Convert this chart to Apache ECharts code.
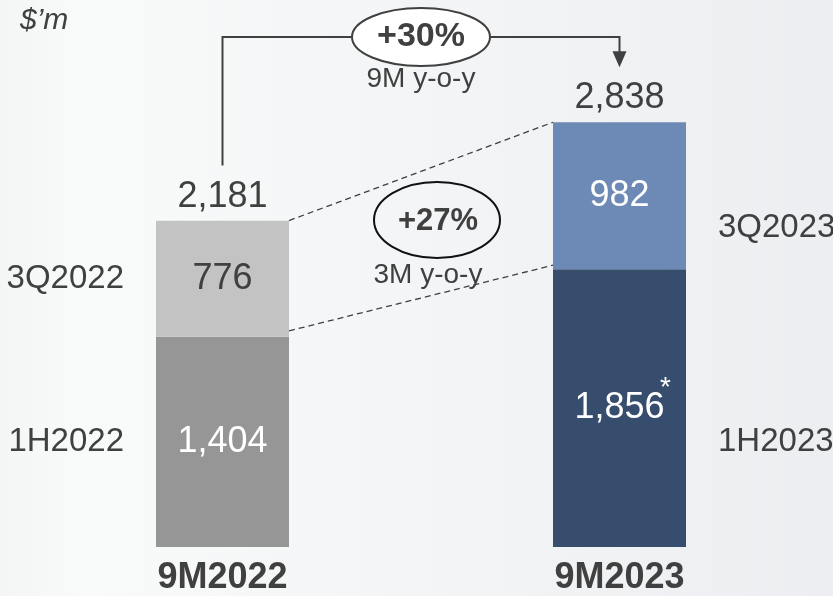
<!DOCTYPE html>
<html>
<head>
<meta charset="utf-8">
<script src="https://cdn.jsdelivr.net/npm/echarts@6/dist/echarts.min.js"></script>
<style>
  html, body { margin: 0; padding: 0; }
  #chart { width: 833px; height: 596px; }
</style>
</head>
<body>
<div id="chart"></div>
<script>
// data
const periods = ['9M2022', '9M2023'];
const firstHalf = [1404, 1856];
const thirdQuarter = [776, 982];
const totals = [2181, 2838];
const firstHalfNames = ['1H2022', '1H2023'];
const thirdQuarterNames = ['3Q2022', '3Q2023'];
const growth9M = '+30%';
const growth3M = '+27%';

const FONT = '"Liberation Sans", Arial, sans-serif';
const INK = '#404040';

const chart = echarts.init(document.getElementById('chart'));

const fmt = v => v.toLocaleString('en-US');

chart.setOption({
  animation: false,
  backgroundColor: {
    type: 'linear', x: 0, y: 0, x2: 1, y2: 0,
    colorStops: [
      { offset: 0, color: '#f4f5f5' },
      { offset: 0.1, color: '#f9fafa' },
      { offset: 1, color: '#eceef1' },
    ],
  },
  textStyle: { fontFamily: FONT },
  grid: { left: 24, right: 15, top: 98, bottom: 48 },
  xAxis: {
    type: 'category',
    data: periods,
    axisLine: { show: false },
    axisTick: { show: false },
    axisLabel: { color: INK, fontSize: 36, fontWeight: 'bold', margin: 13, fontFamily: FONT },
  },
  yAxis: { type: 'value', min: 0, max: 3000, show: false, splitLine: { show: false } },
  series: [
    {
      name: '1H',
      type: 'bar',
      stack: 'rev',
      barWidth: 133,
      data: firstHalf.map((v, i) => ({
        value: v,
        itemStyle: { color: ['#969696', '#374d6e'][i] },
      })),
      label: {
        show: true,
        position: 'inside',
        color: '#fff',
        fontSize: 36,
        fontFamily: FONT,
        formatter: p => fmt(p.value),
      },
    },
    {
      name: '3Q',
      type: 'bar',
      stack: 'rev',
      barWidth: 133,
      data: thirdQuarter.map((v, i) => ({
        value: v,
        itemStyle: { color: ['#c3c3c3', '#6c8ab5'][i] },
        label: { color: [INK, '#fff'][i] },
      })),
      label: {
        show: true,
        position: 'inside',
        fontSize: 36,
        fontFamily: FONT,
        formatter: p => fmt(p.value),
      },
    },
    {
      name: 'total',
      type: 'bar',
      stack: 'rev',
      barWidth: 133,
      data: totals.map(() => 0),
      label: {
        show: true,
        position: 'top',
        distance: 6,
        color: INK,
        fontSize: 36,
        fontFamily: FONT,
        formatter: p => fmt(totals[p.dataIndex]),
      },
    },
  ],
});

// annotations, placed from the axis scales
function px(i, v) {
  return chart.convertToPixel({ xAxisIndex: 0, yAxisIndex: 0 }, [i, v]);
}
const half = 66.5;
const [x0, top0] = px(0, totals[0]);
const [x1, top1] = px(1, totals[1]);
const [, mid0] = px(0, firstHalf[0]);
const [, mid1] = px(1, firstHalf[1]);
const [, base] = px(0, 0);
const cx = (x0 + x1) / 2;
const lineY = 37;

const g = [];
// 9M connector
g.push({
  type: 'polyline',
  shape: { points: [[x0, top0 - 55], [x0, lineY], [cx - 69, lineY]] },
  style: { stroke: INK, lineWidth: 2, fill: null },
});
g.push({
  type: 'polyline',
  shape: { points: [[cx + 69, lineY], [x1, lineY], [x1, top1 - 68]] },
  style: { stroke: INK, lineWidth: 2, fill: null },
});
g.push({
  type: 'polygon',
  shape: { points: [[x1 - 7, top1 - 71], [x1 + 7, top1 - 71], [x1, top1 - 55]] },
  style: { fill: INK },
});
g.push({
  type: 'ellipse',
  shape: { cx: cx, cy: lineY, rx: 69, ry: 29 },
  style: { fill: '#fff', stroke: INK, lineWidth: 2 },
});
g.push({
  type: 'text',
  x: cx, y: lineY,
  style: { text: growth9M, fill: INK, font: 'bold 34px ' + FONT, align: 'center', verticalAlign: 'middle' },
});
g.push({
  type: 'text',
  x: cx, y: lineY + 42,
  style: { text: '9M y-o-y', fill: INK, font: '28px ' + FONT, align: 'center', verticalAlign: 'middle' },
});

// dashed 3Q links
g.push({
  type: 'line',
  shape: { x1: x0 + half, y1: top0, x2: x1 - half, y2: top1 },
  style: { stroke: INK, lineWidth: 1.3, lineDash: [6, 4] },
});
g.push({
  type: 'line',
  shape: { x1: x0 + half, y1: mid0 - 6, x2: x1 - half, y2: mid1 - 4 },
  style: { stroke: INK, lineWidth: 1.3, lineDash: [6, 4] },
});
g.push({
  type: 'ellipse',
  shape: { cx: cx + 16, cy: 220, rx: 63, ry: 38 },
  style: { fill: null, stroke: '#111', lineWidth: 2 },
});
g.push({
  type: 'text',
  x: cx + 17, y: 221,
  style: { text: growth3M, fill: INK, font: 'bold 31px ' + FONT, align: 'center', verticalAlign: 'middle' },
});
g.push({
  type: 'text',
  x: cx + 7, y: 275,
  style: { text: '3M y-o-y', fill: INK, font: '28px ' + FONT, align: 'center', verticalAlign: 'middle' },
});

// asterisk on 1H2023
g.push({
  type: 'text',
  x: x1 + 46, y: (mid1 + base) / 2 - 20,
  z: 100,
  style: { text: '*', fill: '#fff', font: '28px ' + FONT, align: 'center', verticalAlign: 'middle' },
});

// segment names at the sides
const sideFont = '33px ' + FONT;
g.push({
  type: 'text', x: x0 - half - 32, y: (top0 + mid0) / 2,
  style: { text: thirdQuarterNames[0], fill: INK, font: sideFont, align: 'right', verticalAlign: 'middle' },
});
g.push({
  type: 'text', x: x0 - half - 32, y: (mid0 + base) / 2,
  style: { text: firstHalfNames[0], fill: INK, font: sideFont, align: 'right', verticalAlign: 'middle' },
});
g.push({
  type: 'text', x: x1 + half + 32, y: 228,
  style: { text: thirdQuarterNames[1], fill: INK, font: sideFont, align: 'left', verticalAlign: 'middle' },
});
g.push({
  type: 'text', x: x1 + half + 32, y: (mid0 + base) / 2,
  style: { text: firstHalfNames[1], fill: INK, font: sideFont, align: 'left', verticalAlign: 'middle' },
});

// unit
g.push({
  type: 'text', x: 20, y: 21,
  style: { text: '$\u2019m', fill: INK, font: 'italic 30px ' + FONT, align: 'left', verticalAlign: 'middle' },
});

chart.setOption({ graphic: g });
</script>
</body>
</html>
